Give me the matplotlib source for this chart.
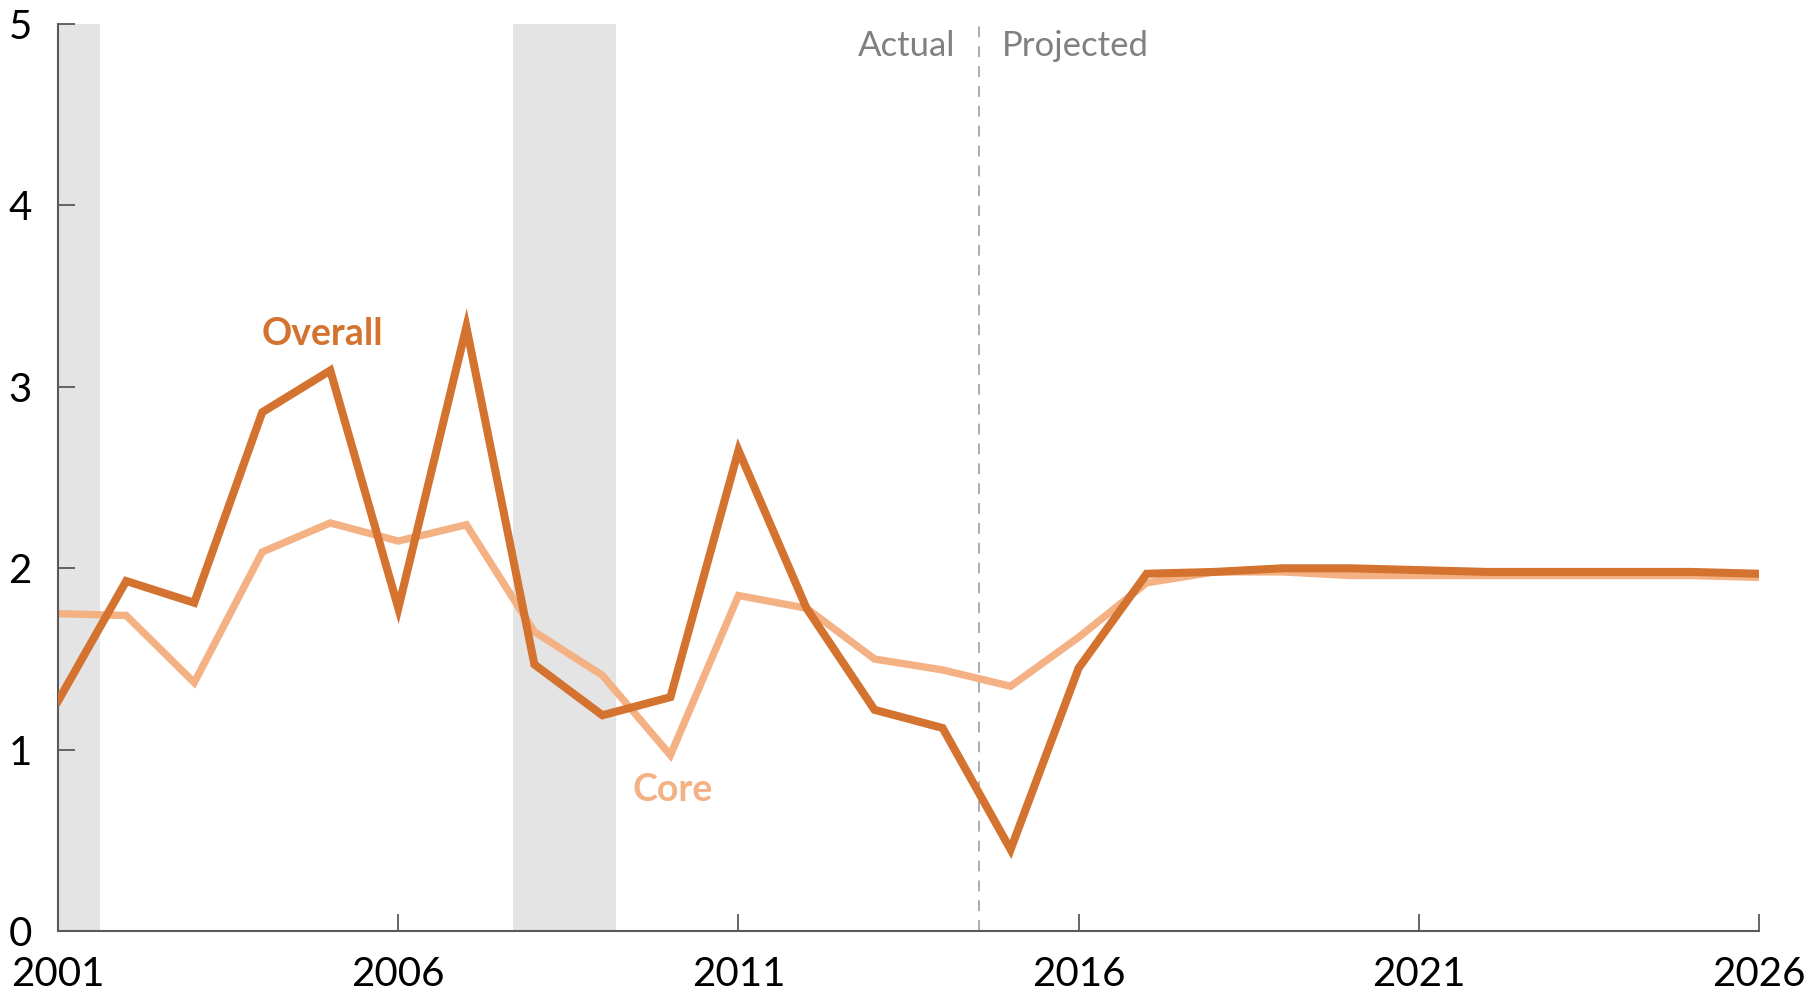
import matplotlib.pyplot as plt

plt.rcParams['font.family'] = ['Lato', 'DejaVu Sans']

# 数据
years = list(range(2001, 2027))
overall = [1.27, 1.93, 1.81, 2.86, 3.09, 1.78, 3.33, 1.47, 1.19, 1.29,
           2.65, 1.78, 1.22, 1.12, 0.45, 1.45, 1.97, 1.98, 2.00, 2.00,
           1.99, 1.98, 1.98, 1.98, 1.98, 1.97]
core = [1.75, 1.74, 1.37, 2.09, 2.25, 2.15, 2.24, 1.65, 1.41, 0.97,
        1.85, 1.78, 1.50, 1.44, 1.35, 1.62, 1.92, 1.98, 1.98, 1.96,
        1.96, 1.96, 1.96, 1.96, 1.96, 1.95]
recessions = [(2001.0, 2001.62), (2007.68, 2009.2)]
split_year = 2014.53
x_ticks = [2001, 2006, 2011, 2016, 2021, 2026]
y_ticks = [0, 1, 2, 3, 4, 5]

c_overall = '#D4722F'
c_core = '#F4B183'
c_axis = '#595959'

fig = plt.figure(figsize=(18.18, 9.97), dpi=100)
ax = fig.add_axes([0.032, 0.066, 0.9355, 0.910])

# 衰退期阴影
for a, b in recessions:
    ax.axvspan(a, b, color='#E4E4E4', lw=0, zorder=0)

ax.axvline(split_year, color='#A6A6A6', lw=1.3, ls=(0, (6, 5)), zorder=1)

ax.plot(years, core, color=c_core, lw=5.3, solid_joinstyle='miter', zorder=2)
ax.plot(years, overall, color=c_overall, lw=5.8, solid_joinstyle='miter', zorder=3)

ax.text(2004.89, 3.29, 'Overall', color=c_overall, fontsize=27,
        fontweight='bold', ha='center', va='center')
ax.text(2010.03, 0.78, 'Core', color=c_core, fontsize=27,
        fontweight='bold', ha='center', va='center')
ax.text(2014.19, 4.88, 'Actual', color='#808080', fontsize=25,
        ha='right', va='center')
ax.text(2014.87, 4.88, 'Projected', color='#808080', fontsize=25,
        ha='left', va='center')

ax.set_xlim(2001, 2026)
ax.set_ylim(0, 5)
ax.set_xticks(x_ticks)
ax.set_yticks(y_ticks)
for s in ['top', 'right']:
    ax.spines[s].set_visible(False)
for s in ['left', 'bottom']:
    ax.spines[s].set_color(c_axis)
    ax.spines[s].set_linewidth(1.5)
ax.tick_params(axis='both', direction='in', length=12, width=1.3,
               color=c_axis, labelsize=29, labelcolor='black')
ax.tick_params(axis='x', pad=18)
ax.tick_params(axis='y', pad=19)

fig.savefig('out.png', dpi=100)
